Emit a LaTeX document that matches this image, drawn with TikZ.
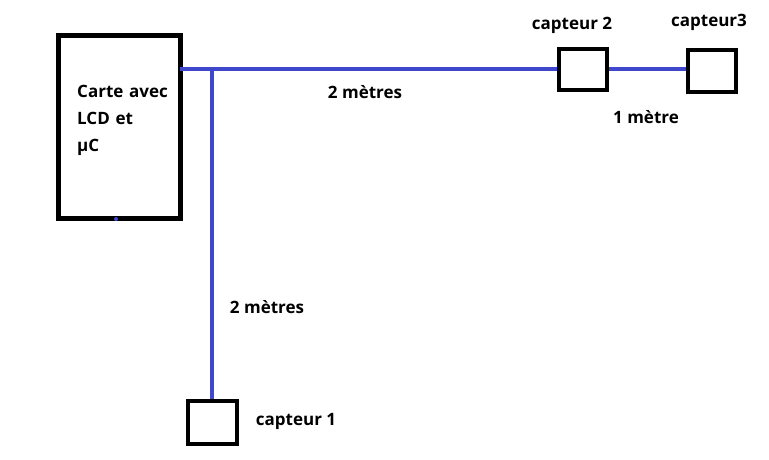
\documentclass[tikz,border=0pt]{standalone}
\usepackage{fontspec}
\setmainfont{Open Sans}
\definecolor{paintblue}{RGB}{63,72,204}
\begin{document}
\begin{tikzpicture}[x=1pt,y=-1pt,
  wire/.style={draw=paintblue,line width=4pt},
  bigbox/.style={draw=black,line width=5pt,inner sep=0pt},
  sensor/.style={draw=black,line width=4.3pt,inner sep=0pt},
  lbl/.style={font=\bfseries\fontsize{17}{27}\selectfont,inner sep=0pt}]
\useasboundingbox[fill=white] (0,0) rectangle (769,459);
% boxes
\node[bigbox,minimum width=122pt,minimum height=183pt] (carte) at (119,126.5) {};
\node[sensor,minimum width=48pt,minimum height=41pt] (c2) at (583,69.5) {};
\node[sensor,minimum width=48pt,minimum height=42pt] (c3) at (712,71) {};
\node[sensor,minimum width=49pt,minimum height=43pt] (c1) at (212.5,422.5) {};
% junction coordinates
\coordinate (j) at (211.5,68.5);
\coordinate (cr) at (180,68.5);
% wires
\draw[wire] (cr) -- (c2.west |- cr);
\draw[wire] (c2.east |- 0,68.5) -- (c3.west |- 0,68.5);
\draw[wire] (j) -- (j |- c1.north);
\fill[paintblue] (116,219) circle (2pt);
% labels
\node[lbl,anchor=west,align=left,text width=110pt] (t) at (77,120) {Carte avec\\LCD et\\µC};
\node[lbl] (l2) at (572,25) {capteur 2};
\node[lbl] (l3) at (709,22) {capteur3};
\node[lbl] (l1) at (296,421) {capteur 1};
\node[lbl] (m1) at (646,117) {1 mètre};
\node[lbl] (m2h) at (365,92) {2 mètres};
\node[lbl] (m2v) at (267,307) {2 mètres};
\end{tikzpicture}
\end{document}
